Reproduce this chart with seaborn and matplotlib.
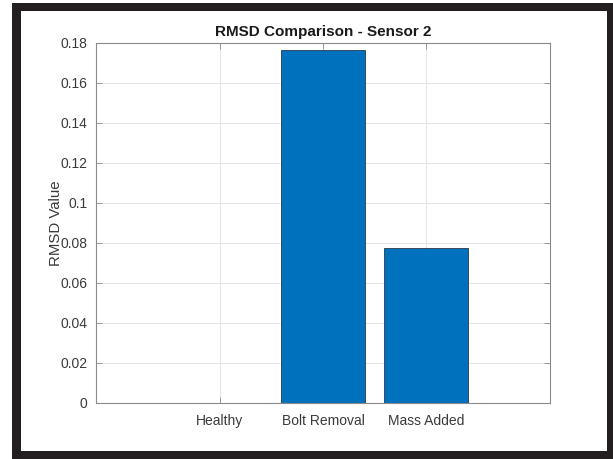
import matplotlib
matplotlib.use("Agg")
import matplotlib.pyplot as plt
from matplotlib.patches import Rectangle
import seaborn as sns
import pandas as pd

# RMSD per structural condition, sensor 2
conditions = ["Healthy", "Bolt Removal", "Mass Added"]
rmsd_values = [0.0, 0.1766, 0.0772]
y_ticks = [0, 0.02, 0.04, 0.06, 0.08, 0.1, 0.12, 0.14, 0.16, 0.18]
y_tick_labels = ["0", "0.02", "0.04", "0.06", "0.08", "0.1", "0.12", "0.14", "0.16", "0.18"]

df = pd.DataFrame({"Condition": conditions, "RMSD": rmsd_values})

sns.set_theme(style="white")
plt.rcParams["font.family"] = ["Liberation Sans", "DejaVu Sans"]

W, H = 613, 459
fig = plt.figure(figsize=(W / 100, H / 100), dpi=100)
fig.patch.set_facecolor("white")

# dark frame around the figure
def px_rect(x0, y0, x1, y1, color):
    return Rectangle((x0 / W, 1 - y1 / H), (x1 - x0) / W, (y1 - y0) / H,
                     transform=fig.transFigure, facecolor=color,
                     edgecolor="none", zorder=-10)

fig.patches.append(px_rect(12, 3, 613, 459, "#231f20"))
fig.patches.append(px_rect(20.7, 11, 606.7, 451.3, "white"))

ax = fig.add_axes([96 / W, 1 - 402.5 / H, (550 - 96) / W, (402.5 - 43) / H])
ax.set_facecolor("white")

sns.barplot(data=df, x="Condition", y="RMSD", ax=ax, color="#0072BD",
            saturation=1, width=0.81, edgecolor="#2b3a48", linewidth=0.6,
            errorbar=None, zorder=3)

ax.set_xlim(-1.2, 3.2)
ax.set_ylim(0, 0.18)
ax.set_yticks(y_ticks)
ax.set_yticklabels(y_tick_labels)

ax.grid(True, color="#e4e4e4", linewidth=0.7, zorder=0)
ax.set_axisbelow(True)

for side in ["left", "right", "top", "bottom"]:
    ax.spines[side].set_visible(True)
    ax.spines[side].set_color("#8a8a8a")
    ax.spines[side].set_linewidth(0.8)
    ax.spines[side].set_zorder(5)

ax.tick_params(axis="both", which="both", direction="in", length=4, width=0.6,
               color="#8a8a8a", labelcolor="#3a3a3a", labelsize=10,
               top=True, right=True, left=True, bottom=True)
ax.tick_params(axis="x", pad=8)
ax.tick_params(axis="y", pad=6)

ax.set_xlabel("")
ax.set_ylabel("RMSD Value", fontsize=10.8, color="#3a3a3a", labelpad=-2)
ax.set_title("RMSD Comparison - Sensor 2", fontsize=11, fontweight="bold",
             color="#1a1a1a", pad=5)

fig.savefig("out.png", dpi=100, facecolor=fig.get_facecolor())
